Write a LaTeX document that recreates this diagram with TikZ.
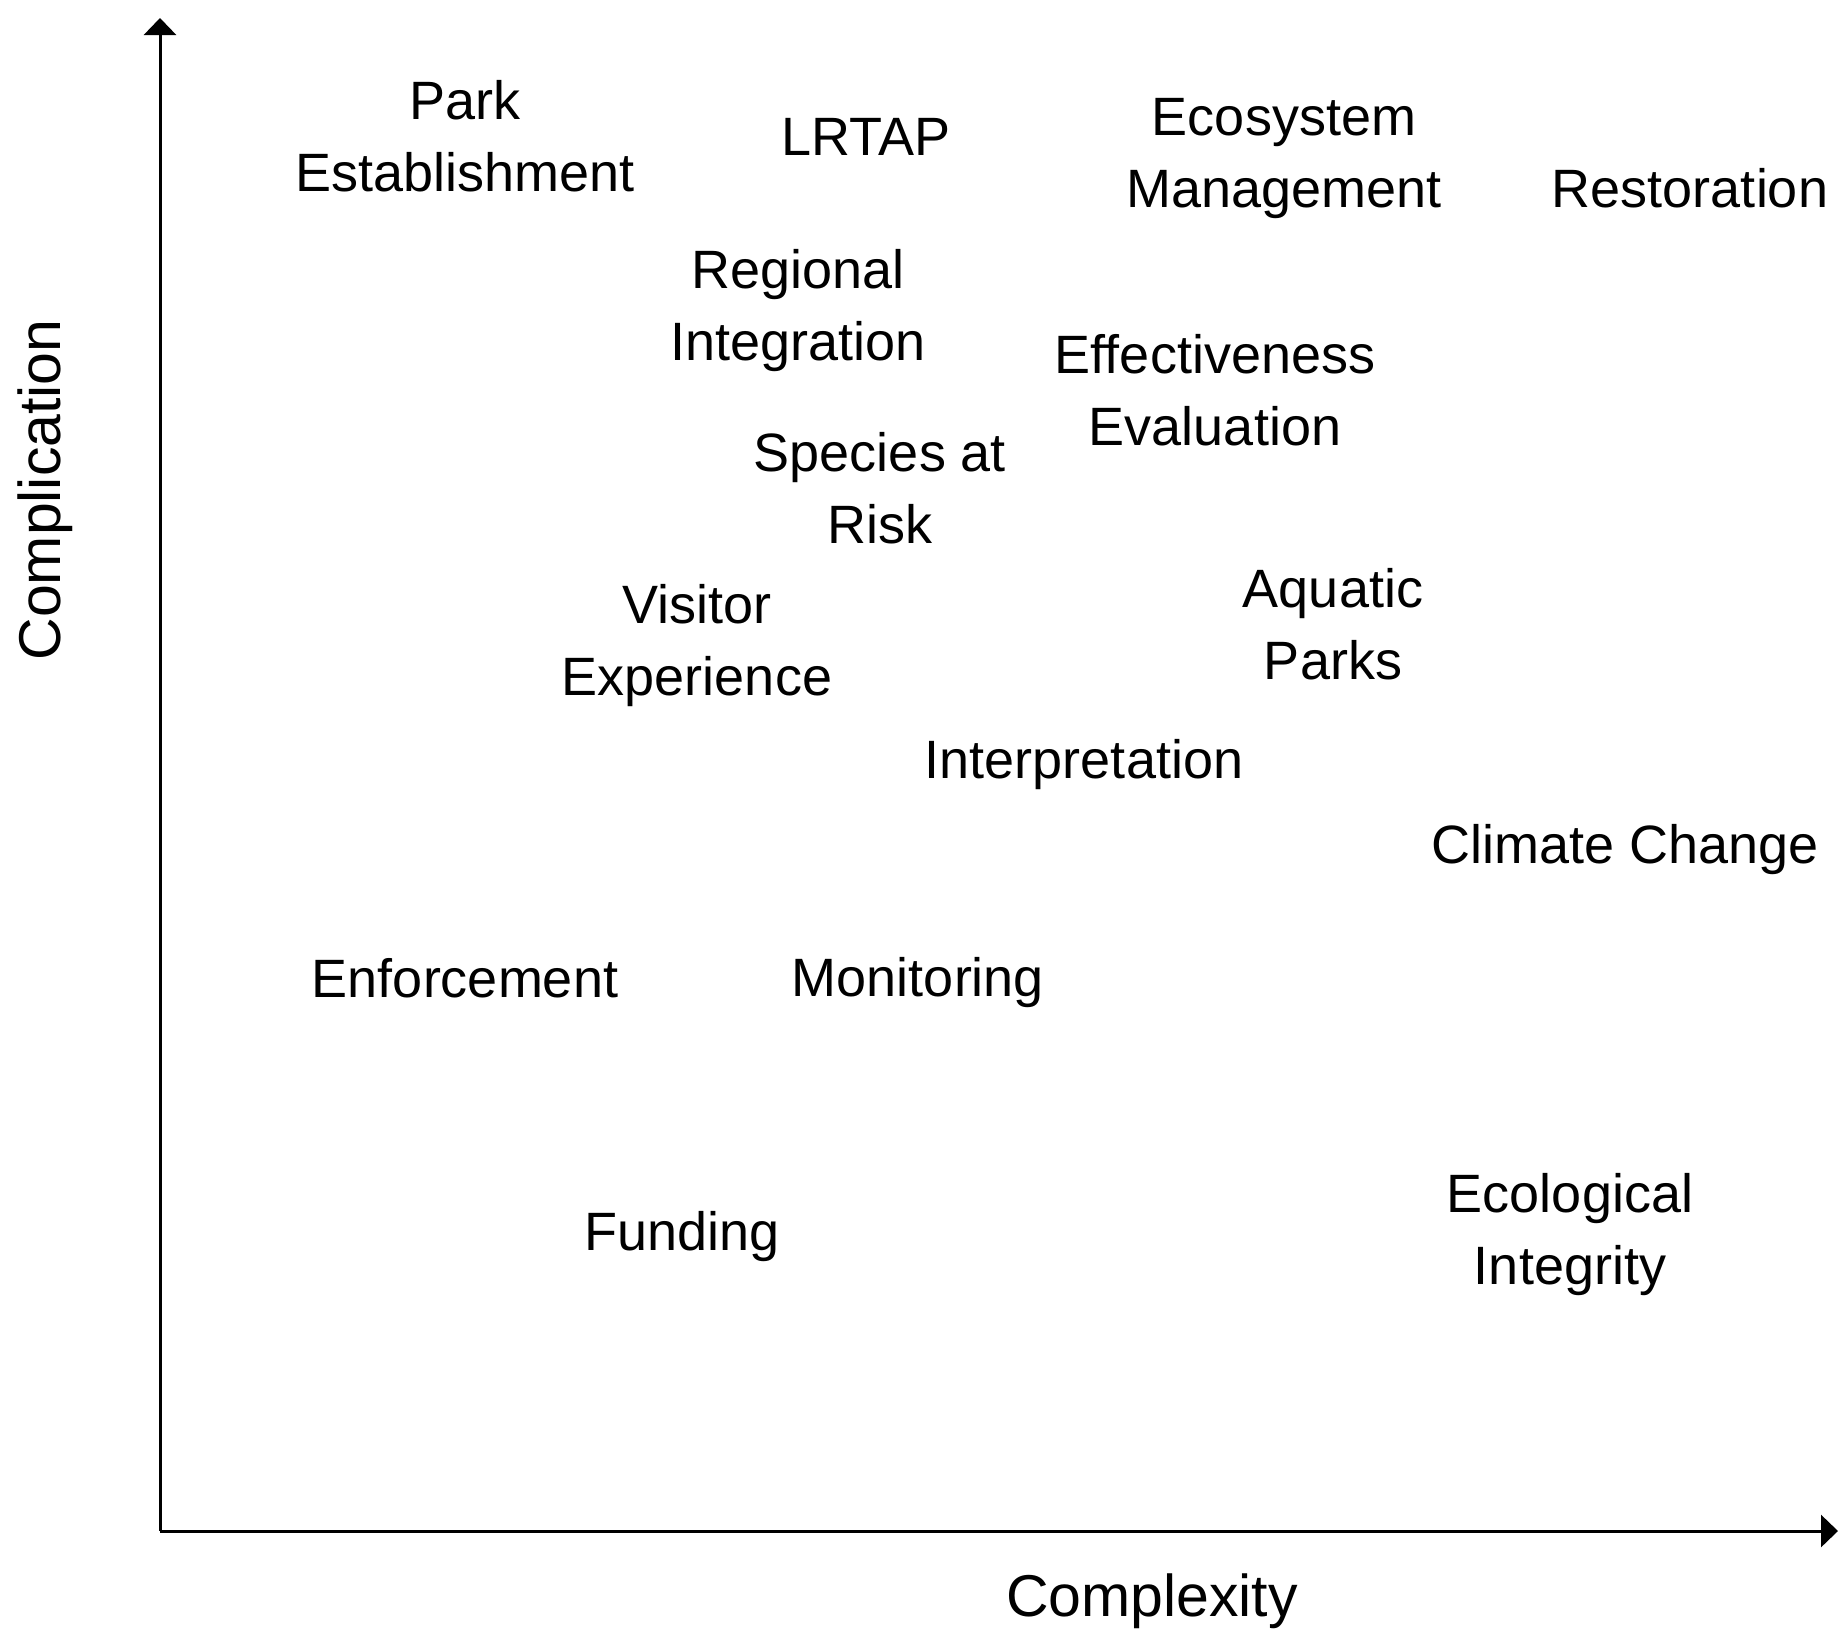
\documentclass[tikz,border=0pt]{standalone}
\usepackage{fontspec}
\setmainfont{Liberation Sans}
\usetikzlibrary{arrows.meta}
\begin{document}
\begin{tikzpicture}[x=1pt,y=-1pt,
  topic/.style={inner sep=0pt,align=center,font=\fontsize{54}{72}\selectfont},
  axislabel/.style={inner sep=0pt,font=\fontsize{59}{72}\selectfont},
  axis/.style={line width=3pt,-{Triangle[width=32pt,length=17pt]}}]
\useasboundingbox (0,0) rectangle (1840,1634);
% axes
\coordinate (o) at (160,1531);
\coordinate (ytip) at (160,18);
\coordinate (xtip) at (1838,1531);
\draw[axis] (o) -- (ytip);
\draw[axis] (o) -- (xtip);
% axis titles
\node[axislabel] (xlab) at (1152,1601) {Complexity};
\node[axislabel,rotate=90] (ylab) at (45,490) {Complication};
% topics
\node[topic] (park) at (465,136) {Park\\Establishment};
\node[topic] (lrtap) at (866,137) {LRTAP};
\node[topic] (eco) at (1284,159) {Ecosystem\\Management};
\node[topic] (rest) at (1690,188) {Restoration};
\node[topic] (reg) at (798,311) {Regional\\Integration};
\node[topic] (eff) at (1215,390) {Effectiveness\\Evaluation};
\node[topic] (sar) at (880,488) {Species at\\Risk};
\node[topic] (vis) at (697,646) {Visitor\\Experience};
\node[topic] (aq) at (1333,624) {Aquatic\\Parks};
\node[topic] (interp) at (1084,765) {Interpretation};
\node[topic] (clim) at (1625,850) {Climate Change};
\node[topic] (enf) at (465,978) {Enforcement};
\node[topic] (mon) at (918,983) {Monitoring};
\node[topic] (fund) at (682,1237) {Funding};
\node[topic] (ei) at (1570,1235) {Ecological\\Integrity};
\end{tikzpicture}
\end{document}
